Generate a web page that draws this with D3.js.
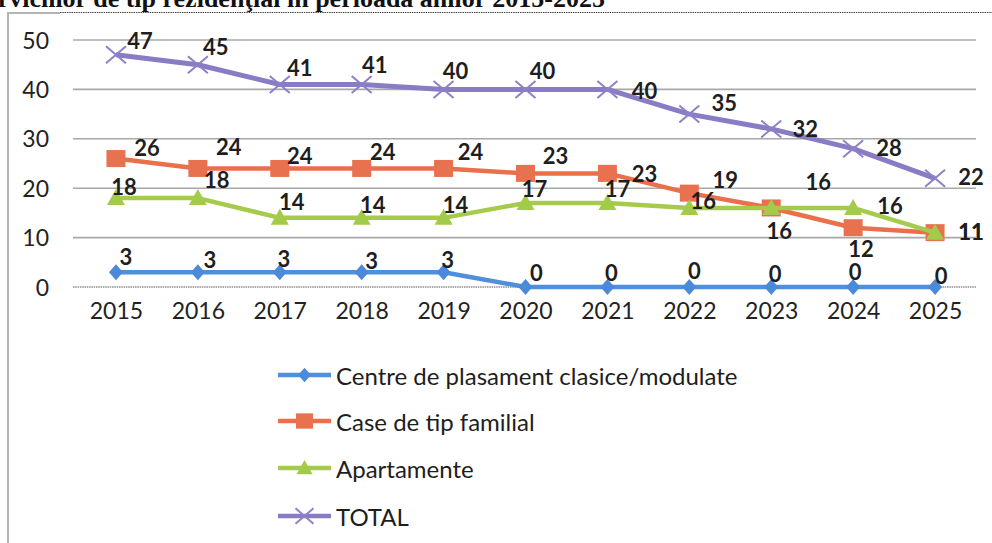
<!DOCTYPE html>
<html><head><meta charset="utf-8">
<script src="https://cdn.jsdelivr.net/npm/d3@7"></script>
<style>html,body{margin:0;padding:0;background:#fff;overflow:hidden}</style>
</head><body>
<svg id="c" width="992" height="543"></svg>
<script>
// ---- data ----
const years = ["2015","2016","2017","2018","2019","2020","2021","2022","2023","2024","2025"];
const yTicks = [0,10,20,30,40,50];
const seriesNames = ["Centre de plasament clasice/modulate","Case de tip familial","Apartamente","TOTAL"];
const centre = [3,3,3,3,3,0,0,0,0,0,0];
const caseFam = [26,24,24,24,24,23,23,19,16,12,11];
const apart = [18,18,14,14,14,17,17,16,16,16,11];
const total = [47,45,41,41,40,40,40,35,32,28,22];
const titleText = "serviciilor de tip rezidenţial în perioada anilor 2015-2025";

// ---- layout (label offsets relative to points) ----
const labelOff = [
  [[10,-16],[12,-13],[4,-14],[10,-12],[4,-13],[11,-15],[4,-15],[5,-17],[4,-14],[2,-16],[6,-12]],
  [[31,-11],[31,-22],[20,-13],[21,-17],[27,-17],[30,-18],[37,0],[36,-14],[8,23],[8,21],[36,-1]],
  [[8,-12],[19,-19],[12,-16],[11,-13],[12,-13],[9,-15],[10,-15],[14,-7],[47,-26],[37,-2],[36,-1]],
  [[24,-14],[18,-18],[20,-17],[13,-20],[12,-19],[17,-19],[37,1],[35,-12],[34,0],[36,-1],[36,-2]]
];
const colors = ["#4f8fdc","#ea6f4b","#a6ca4c","#8a7cc4"];
const markerCol = ["#4a8ad8","#e8714f","#a3cb4a","#8d80c8"];
const shapes = ["diamond","square","triangle","x"];

const svg = d3.select("#c");
const font = "Lato, 'Open Sans', sans-serif";

// title (cropped at top, as in the scan)
svg.append("text").attr("x",605).attr("y",7).attr("text-anchor","end")
  .attr("font-family","'Liberation Serif', 'DejaVu Serif', serif").attr("font-weight","bold")
  .attr("font-size",26).attr("fill","#111").text(titleText);

// frame
svg.append("line").attr("x1",8).attr("x2",8).attr("y1",12).attr("y2",543).attr("stroke","#b5b5b5").attr("stroke-width",2);
svg.append("line").attr("x1",8).attr("x2",60).attr("y1",13).attr("y2",13).attr("stroke","#b5b5b5").attr("stroke-width",2);
svg.append("line").attr("x1",60).attr("x2",992).attr("y1",12.5).attr("y2",12.5).attr("stroke","#444").attr("stroke-width",1).attr("stroke-dasharray","1.5,0.8");

const x = d3.scalePoint().domain(years).range([75,976]).padding(0.5);
const y = d3.scaleLinear().domain([0,50]).range([287,40]);

// gridlines
const grid = svg.append("g");
yTicks.forEach(t=>{
  grid.append("line").attr("x1",73).attr("x2",976).attr("y1",y(t)).attr("y2",y(t))
    .attr("stroke", t===0 ? "#555" : "#a8a8a8").attr("stroke-width", t===0?1.2:1.6)
    .attr("stroke-dasharray", t===0 ? "1.5,0.8" : null);
});

// axes
const yAxis = svg.append("g").attr("transform","translate(49,0)")
  .call(d3.axisLeft(y).tickValues(yTicks).tickSize(0).tickPadding(0));
yAxis.select(".domain").remove();
yAxis.selectAll("text").attr("font-family",font).attr("font-size",23).attr("fill","#222").attr("dy","0.35em");

const xAxis = svg.append("g").attr("transform","translate(0,303)")
  .call(d3.axisBottom(x).tickSize(0).tickPadding(0));
xAxis.select(".domain").remove();
xAxis.selectAll("text").attr("font-family",font).attr("font-size",23).attr("fill","#222").attr("dy","0.71em");

const allSeries = [centre, caseFam, apart, total];

function marker(g, shape, cx, cy, col, scale){
  scale = scale||1;
  if(shape==="diamond"){
    g.append("path").attr("d",`M${cx},${cy-8*scale}L${cx+7*scale},${cy}L${cx},${cy+8*scale}L${cx-7*scale},${cy}Z`).attr("fill",col);
  } else if(shape==="square"){
    g.append("rect").attr("x",cx-9.5*scale).attr("y",cy-8.5*scale).attr("width",19*scale).attr("height",17*scale).attr("fill",col);
  } else if(shape==="triangle"){
    g.append("path").attr("d",`M${cx},${cy-9*scale}L${cx+9*scale},${cy+7*scale}L${cx-9*scale},${cy+7*scale}Z`).attr("fill",col);
  } else {
    g.append("path").attr("d",`M${cx-10*scale},${cy-8.5*scale}L${cx+10*scale},${cy+8.5*scale}M${cx+10*scale},${cy-8.5*scale}L${cx-10*scale},${cy+8.5*scale}`)
      .attr("stroke",col).attr("stroke-width",2).attr("fill","none");
  }
}

const line = d3.line().x((d,i)=>x(years[i])).y(d=>y(d));
allSeries.forEach((s,k)=>{
  const g = svg.append("g");
  g.append("path").datum(s).attr("d",line).attr("fill","none").attr("stroke",colors[k])
    .attr("stroke-width",k===3?5:4.5).attr("stroke-linejoin","round");
  s.forEach((v,i)=> marker(g, shapes[k], x(years[i]), y(v), markerCol[k]));
});

// data labels
allSeries.forEach((s,k)=>{
  s.forEach((v,i)=>{
    const o = labelOff[k][i];
    svg.append("text").attr("x",x(years[i])+o[0]).attr("y",y(v)+o[1])
      .attr("text-anchor","middle").attr("dominant-baseline","central")
      .attr("font-family",font).attr("font-weight","bold").attr("font-size",22)
      .attr("fill","#1e1e1e").text(v);
  });
});

// legend
const legY = [375, 421, 468, 516];
seriesNames.forEach((n,k)=>{
  const g = svg.append("g");
  g.append("line").attr("x1",278).attr("x2",331).attr("y1",legY[k]).attr("y2",legY[k])
    .attr("stroke",colors[k]).attr("stroke-width",4.5);
  marker(g, shapes[k], 304.5, legY[k], markerCol[k], 0.9);
  g.append("text").attr("x",336).attr("y",legY[k]).attr("dominant-baseline","central")
    .attr("font-family",font).attr("font-size",24).attr("fill","#1e1e1e").text(n);
});
</script>
</body></html>
